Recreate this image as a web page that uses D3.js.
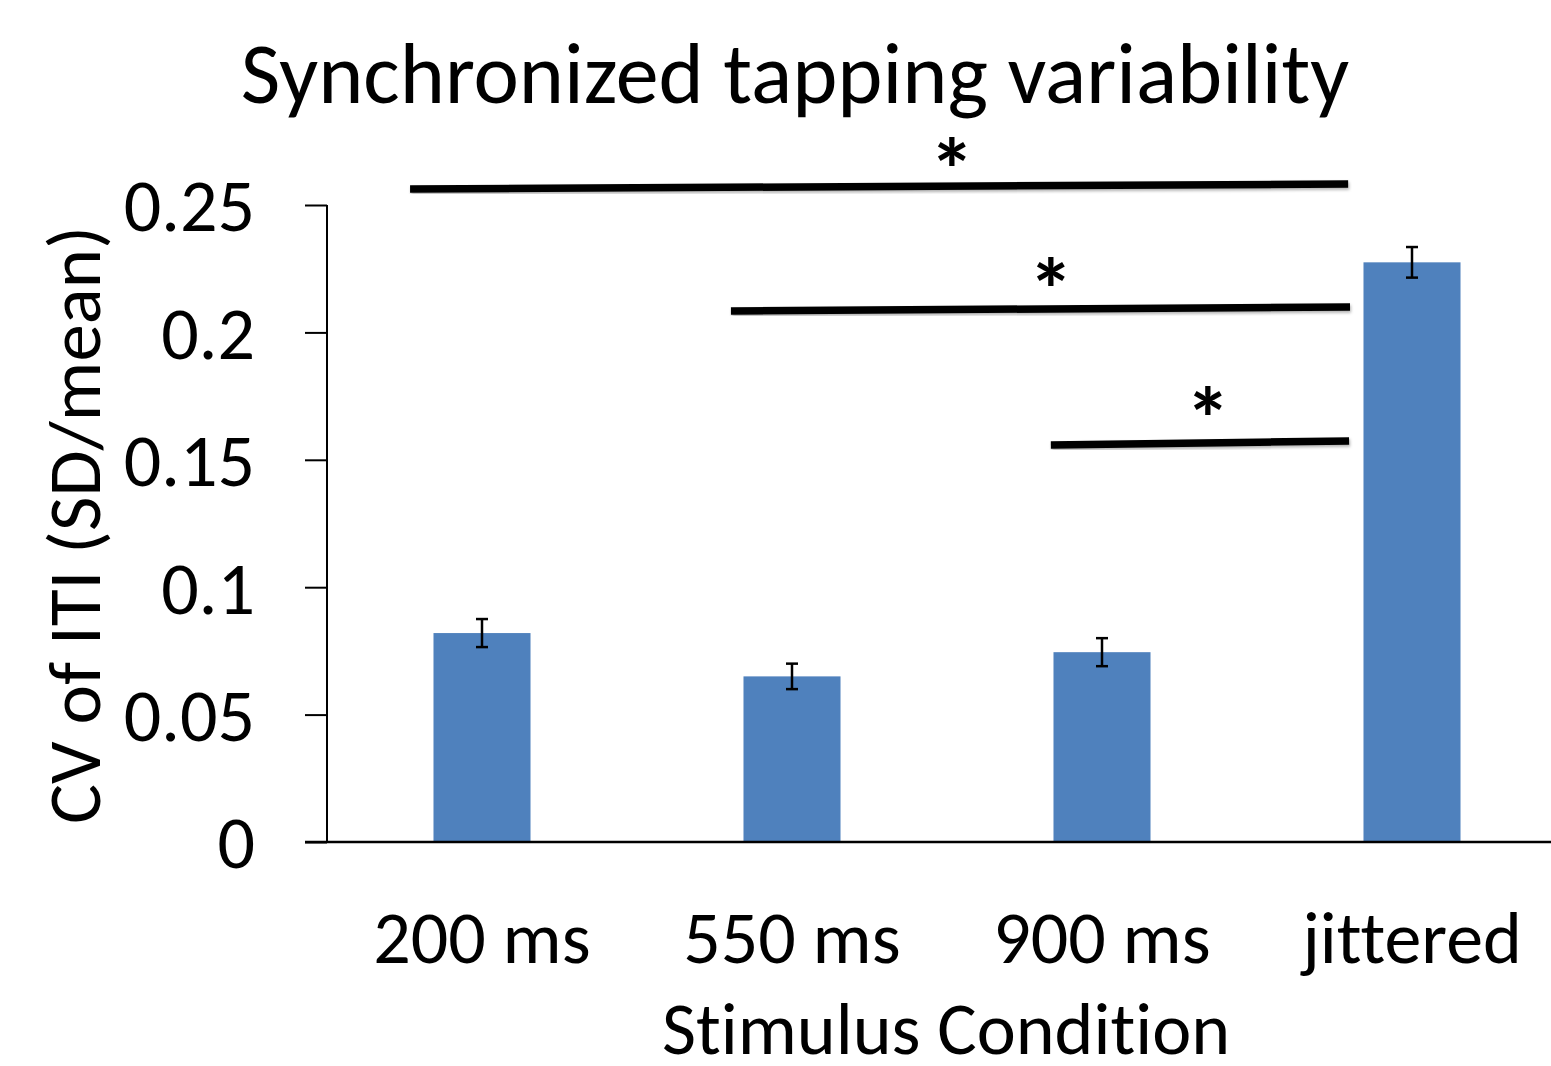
<!DOCTYPE html>
<html>
<head>
<meta charset="utf-8">
<script src="https://cdn.jsdelivr.net/npm/d3@7"></script>
<style>
  body { margin: 0; background: #fff; }
  text { font-family: Carlito, Calibri, "Open Sans", sans-serif; fill: #000;
    font-variant-ligatures: none; font-feature-settings: "liga" 0, "clig" 0; }
</style>
</head>
<body>
<svg id="chart"></svg>
<script>
// Data
const categories = ["200 ms", "550 ms", "900 ms", "jittered"];
const cvValues = [0.082, 0.065, 0.0745, 0.2275];
const cvErrors = [0.0055, 0.005, 0.0055, 0.006];
const yTicks = [0, 0.05, 0.1, 0.15, 0.2, 0.25];

// significance bars: start/end in category index, value at left/right end
const sigStart = [-0.232, 0.803, 1.835];
const sigEnd = [2.794, 2.8, 2.797];
const sigLeft = [0.2563, 0.2084, 0.1558];
const sigRight = [0.2582, 0.2100, 0.1574];
const starIndex = [1.516, 1.835, 2.342];
const starValue = [0.2637, 0.2165, 0.1662];

const W = 1551, H = 1066;
const margin = { top: 205, right: -16, bottom: 224, left: 327 };
const width = W - margin.left - margin.right,
  height = H - margin.top - margin.bottom;
const font = "Carlito, Calibri, 'Open Sans', sans-serif";

const svg = d3.select("#chart")
  .attr("width", W)
  .attr("height", H);

const g = svg.append("g")
  .attr("transform", `translate(${margin.left},${margin.top})`);

// Scales
const x = d3.scaleBand()
  .domain(categories)
  .range([0, width])
  .paddingInner(0.687)
  .paddingOuter(0.3435);

const y = d3.scaleLinear()
  .domain([0, 0.25])
  .range([height, 0]);

const xi = d3.scaleLinear()
  .domain([0, categories.length - 1])
  .range([x(categories[0]) + x.bandwidth() / 2, x(categories[3]) + x.bandwidth() / 2]);

// Title
svg.append("text")
  .attr("x", 795)
  .attr("y", 103)
  .attr("text-anchor", "middle")
  .attr("font-size", "86px")
  .text("Synchronized tapping variability");

// Bars
g.selectAll(".bar")
  .data(cvValues)
  .enter()
  .append("rect")
  .attr("class", "bar")
  .attr("x", (d, i) => x(categories[i]))
  .attr("y", d => y(d))
  .attr("width", x.bandwidth())
  .attr("height", d => height - y(d))
  .attr("fill", "#4f81bd");

// Error bars
const err = g.selectAll(".err")
  .data(cvValues)
  .enter()
  .append("g")
  .attr("class", "err")
  .attr("stroke", "#000")
  .attr("stroke-width", 2.5);

err.append("line")
  .attr("x1", (d, i) => x(categories[i]) + x.bandwidth() / 2)
  .attr("x2", (d, i) => x(categories[i]) + x.bandwidth() / 2)
  .attr("y1", (d, i) => y(d + cvErrors[i]))
  .attr("y2", (d, i) => y(d - cvErrors[i]));

err.append("line")
  .attr("x1", (d, i) => x(categories[i]) + x.bandwidth() / 2 - 6)
  .attr("x2", (d, i) => x(categories[i]) + x.bandwidth() / 2 + 6)
  .attr("y1", (d, i) => y(d + cvErrors[i]))
  .attr("y2", (d, i) => y(d + cvErrors[i]));

err.append("line")
  .attr("x1", (d, i) => x(categories[i]) + x.bandwidth() / 2 - 6)
  .attr("x2", (d, i) => x(categories[i]) + x.bandwidth() / 2 + 6)
  .attr("y1", (d, i) => y(d - cvErrors[i]))
  .attr("y2", (d, i) => y(d - cvErrors[i]));

// Y axis
const yAxis = g.append("g")
  .call(d3.axisLeft(y).tickValues(yTicks).tickSize(22).tickPadding(50)
    .tickFormat(d => d === 0 ? "0" : String(d)));
yAxis.select(".domain").attr("stroke-width", 2).attr("d", `M0,0V${height}`);
yAxis.selectAll(".tick line").attr("stroke-width", 2);
yAxis.selectAll(".tick text")
  .attr("font-size", "74px")
  .attr("font-family", font)
  .attr("fill", "#000")
  .attr("dy", "0.35em");

// X axis
const xAxis = g.append("g")
  .attr("transform", `translate(0,${height})`)
  .call(d3.axisBottom(x).tickSize(0).tickPadding(68));
xAxis.select(".domain").attr("stroke-width", 2.5).attr("d", `M-22,0H${W - margin.left}`);
xAxis.selectAll(".tick text")
  .attr("font-size", "74px")
  .attr("font-family", font)
  .attr("fill", "#000");

// Axis titles
svg.append("text")
  .attr("x", 946)
  .attr("y", 1054)
  .attr("text-anchor", "middle")
  .attr("font-size", "74px")
  .text("Stimulus Condition");

svg.append("text")
  .attr("transform", "translate(100,525) rotate(-90)")
  .attr("text-anchor", "middle")
  .attr("font-size", "75px")
  .text("CV of ITI (SD/mean)");

// Significance bars
const defs = svg.append("defs");
const shadow = defs.append("filter").attr("id", "shadow")
  .attr("x", "-5%").attr("y", "-100%").attr("width", "110%").attr("height", "300%");
shadow.append("feDropShadow")
  .attr("dx", 1).attr("dy", 2).attr("stdDeviation", 1.5)
  .attr("flood-color", "#000").attr("flood-opacity", 0.3);

g.selectAll(".sig")
  .data(sigStart)
  .enter()
  .append("line")
  .attr("class", "sig")
  .attr("x1", d => xi(d))
  .attr("x2", (d, i) => xi(sigEnd[i]))
  .attr("y1", (d, i) => y(sigLeft[i]))
  .attr("y2", (d, i) => y(sigRight[i]))
  .attr("stroke", "#000")
  .attr("stroke-width", 7.5)
  .attr("filter", "url(#shadow)");

g.selectAll(".star")
  .data(starIndex)
  .enter()
  .append("text")
  .attr("class", "star")
  .attr("x", d => xi(d))
  .attr("y", (d, i) => y(starValue[i]))
  .attr("text-anchor", "middle")
  .attr("dominant-baseline", "central")
  .attr("font-size", "90px")
  .attr("font-weight", "bold")
  .text("*");
</script>
</body>
</html>
